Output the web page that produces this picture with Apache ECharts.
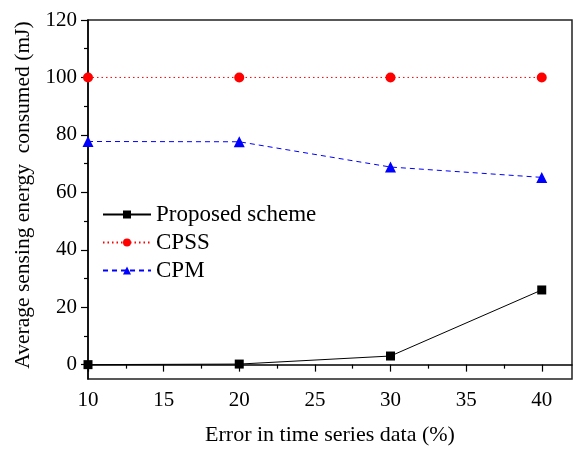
<!DOCTYPE html>
<html>
<head>
<meta charset="utf-8">
<script src="https://cdn.jsdelivr.net/npm/echarts@6/dist/echarts.min.js"></script>
<style>
  html, body { margin: 0; padding: 0; background: #fff; }
  #chart { width: 574px; height: 451px; }
</style>
</head>
<body>
<div id="chart"></div>
<script>
// Error rate in the time series data (%)
const errorLevels = [10, 20, 30, 40];
// Average sensing energy consumed (mJ) for each scheme
const proposedScheme = [0, 0.2, 3, 26];
const cpss = [100, 100, 100, 100];
const cpm = [77.7, 77.6, 68.8, 65.2];

const xMajorTicks = [10, 15, 20, 25, 30, 35, 40];
const xMinorTicks = [12.5, 17.5, 22.5, 27.5, 32.5, 37.5];
const yMajorTicks = [0, 20, 40, 60, 80, 100, 120];
const yMinorTicks = [10, 30, 50, 70, 90, 110];

const font = 'Liberation Serif, Times New Roman, serif';
const axisColor = '#000';

const pairs = arr => errorLevels.map((x, i) => [x, arr[i]]);

const chart = echarts.init(document.getElementById('chart'), null, { renderer: 'canvas' });

chart.setOption({
  animation: false,
  backgroundColor: '#fff',
  grid: {
    left: 88, right: 2, top: 20, bottom: 71,
    show: true, borderColor: '#222', borderWidth: 1.5, backgroundColor: 'transparent'
  },
  legend: {
    orient: 'vertical',
    left: 97, top: 198,
    itemWidth: 48, itemHeight: 10, itemGap: 5,
    textStyle: { fontFamily: font, fontSize: 23, color: '#000' },
    data: ['Proposed scheme', 'CPSS', 'CPM']
  },
  xAxis: [
    {
      type: 'value', min: 10, max: 42,
      name: 'Error in time series data (%)',
      nameLocation: 'middle', nameGap: 45,
      nameTextStyle: { fontFamily: font, fontSize: 22, color: '#000' },
      axisLine: { show: true, lineStyle: { color: axisColor, width: 1.5 } },
      axisTick: { show: true, customValues: xMajorTicks, length: 7, lineStyle: { color: axisColor, width: 1.2 } },
      axisLabel: { customValues: xMajorTicks, fontFamily: font, fontSize: 21, color: '#000', margin: 11 },
      splitLine: { show: false }
    },
    {
      type: 'value', min: 10, max: 42, position: 'bottom',
      axisLine: { show: false },
      axisTick: { show: true, customValues: xMinorTicks, length: 4, lineStyle: { color: axisColor, width: 1.2 } },
      axisLabel: { show: false },
      splitLine: { show: false }
    }
  ],
  yAxis: [
    {
      type: 'value', min: -5, max: 120,
      name: 'Average sensing energy  consumed (mJ)',
      nameLocation: 'middle', nameGap: 54, nameRotate: 90,
      nameTextStyle: { fontFamily: font, fontSize: 21.5, color: '#000', padding: [0, 0, 0, 9] },
      axisLine: { show: true, lineStyle: { color: axisColor, width: 1.5 } },
      axisTick: { show: true, customValues: yMajorTicks, length: 7, lineStyle: { color: axisColor, width: 1.2 } },
      axisLabel: { customValues: yMajorTicks, fontFamily: font, fontSize: 21, color: '#000', margin: 11 },
      splitLine: { show: false }
    },
    {
      type: 'value', min: -5, max: 120, position: 'left',
      axisLine: { show: false },
      axisTick: { show: true, customValues: yMinorTicks, length: 4, lineStyle: { color: axisColor, width: 1.2 } },
      axisLabel: { show: false },
      splitLine: { show: false }
    }
  ],
  series: [
    {
      name: 'Proposed scheme', type: 'line', data: pairs(proposedScheme),
      symbol: 'rect', symbolSize: 9,
      itemStyle: { color: '#000' },
      lineStyle: { color: '#000', width: 1, type: 'solid' }
    },
    {
      name: 'CPSS', type: 'line', data: pairs(cpss),
      symbol: 'circle', symbolSize: 10,
      itemStyle: { color: '#ff0000' },
      lineStyle: { color: '#ff0000', width: 1, type: [1.5, 3] }
    },
    {
      name: 'CPM', type: 'line', data: pairs(cpm),
      symbol: 'triangle', symbolSize: 11,
      itemStyle: { color: '#0000ff' },
      lineStyle: { color: '#0000ff', width: 1, type: [5, 4] }
    }
  ]
});
</script>
</body>
</html>
